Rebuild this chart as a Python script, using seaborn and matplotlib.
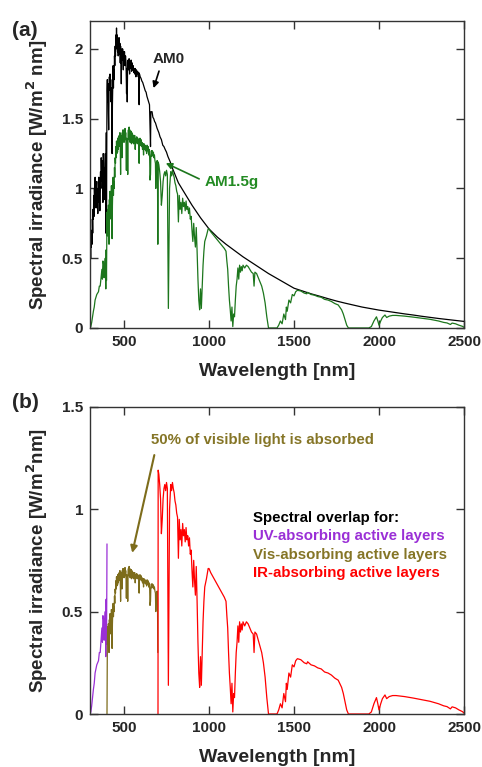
import numpy as np
import pandas as pd
import matplotlib
matplotlib.use("Agg")
import matplotlib.pyplot as plt
import seaborn as sns

# solar spectra, (wavelength nm, irradiance W/m2/nm)
am0_uv = [(300, 0.52), (302, 0.62), (304, 0.5), (306, 0.66), (308, 0.58), (310, 0.7),
          (312, 0.6), (314, 0.78), (316, 0.68), (318, 0.85), (320, 0.78), (322, 0.95),
          (324, 0.8), (326, 1.0), (328, 0.92), (330, 1.08), (332, 0.9), (334, 1.02),
          (336, 0.86), (338, 1.0), (340, 1.05), (342, 0.9), (344, 0.98), (346, 0.82),
          (348, 1.0), (350, 0.95), (352, 1.08), (354, 0.9), (356, 1.0), (358, 0.84),
          (360, 1.05), (362, 1.12), (364, 1.0), (366, 1.22), (368, 1.1), (370, 1.2),
          (372, 1.05), (374, 1.15), (376, 0.9), (378, 1.25), (380, 1.18), (382, 1.05),
          (384, 0.92), (386, 1.15), (388, 1.0), (390, 1.25), (392, 1.1), (393, 0.68),
          (394, 1.0), (396, 1.4), (397, 0.75), (399, 1.3)]
am0_vis = [(400, 1.7), (402, 1.78), (404, 1.62), (406, 1.75), (408, 1.55), (410, 1.42),
           (412, 1.7), (414, 1.8), (416, 1.72), (418, 1.82), (420, 1.7), (422, 1.78),
           (424, 1.62), (426, 1.72), (428, 1.55), (430, 1.25), (432, 1.6), (434, 1.75),
           (436, 1.88), (438, 1.72), (440, 1.85), (442, 1.78), (444, 1.95), (446, 1.88),
           (448, 2.02), (450, 1.95), (452, 2.1), (454, 2.0), (456, 2.15), (458, 2.02),
           (460, 2.1), (462, 1.98), (464, 2.08), (466, 1.95), (468, 2.06), (470, 2.02),
           (472, 2.08), (474, 1.96), (476, 2.04), (478, 1.9), (480, 2.02), (482, 1.95),
           (484, 1.75), (486, 1.98), (488, 2.0), (490, 1.92), (492, 2.0), (494, 1.95),
           (496, 1.85), (498, 1.98), (500, 1.92), (503, 1.98), (506, 1.88), (509, 1.95),
           (512, 1.9), (515, 1.68), (517, 1.86), (519, 1.62), (521, 1.85), (524, 1.92),
           (527, 1.85), (530, 1.93), (533, 1.82), (536, 1.9), (539, 1.86), (542, 1.92),
           (545, 1.84), (548, 1.9), (551, 1.85), (554, 1.88), (557, 1.83), (560, 1.86),
           (563, 1.82), (566, 1.86), (570, 1.8), (573, 1.85), (576, 1.82), (580, 1.84),
           (584, 1.8), (587, 1.83), (589, 1.6), (591, 1.82), (595, 1.8), (600, 1.79),
           (605, 1.77), (610, 1.76), (615, 1.74), (620, 1.72), (625, 1.7), (630, 1.69),
           (635, 1.66), (640, 1.64), (645, 1.62), (650, 1.6), (654, 1.4), (656, 1.3),
           (658, 1.55), (665, 1.55), (670, 1.51), (675, 1.5), (680, 1.48), (685, 1.47),
           (690, 1.45), (695, 1.43)]
am0_ir = [(705, 1.4), (712, 1.37), (720, 1.35), (728, 1.31), (735, 1.3), (742, 1.28),
          (750, 1.26), (758, 1.23), (765, 1.21), (772, 1.19), (780, 1.16), (790, 1.13),
          (800, 1.1), (810, 1.07), (820, 1.04), (835, 1.01), (850, 0.98), (862, 0.955),
          (875, 0.93), (888, 0.905), (900, 0.88), (925, 0.835),
          (950, 0.79), (975, 0.75), (1000, 0.71), (1050, 0.65), (1100, 0.6), (1150, 0.555),
          (1200, 0.51), (1250, 0.47), (1300, 0.43), (1350, 0.39), (1400, 0.355),
          (1450, 0.32), (1500, 0.285), (1550, 0.265), (1600, 0.245), (1650, 0.228),
          (1700, 0.21), (1750, 0.193), (1800, 0.178), (1850, 0.164), (1900, 0.15),
          (1950, 0.139), (2000, 0.128), (2050, 0.119), (2100, 0.11), (2150, 0.101),
          (2200, 0.093), (2250, 0.084), (2300, 0.076), (2350, 0.068), (2400, 0.061),
          (2450, 0.054), (2500, 0.047)]

am15_uv = [(300, 0.0), (305, 0.01), (310, 0.04), (315, 0.08), (320, 0.12), (325, 0.15),
           (330, 0.2), (335, 0.22), (340, 0.24), (345, 0.25), (350, 0.26), (355, 0.3),
           (360, 0.3), (365, 0.36), (370, 0.42), (373, 0.35), (376, 0.48), (380, 0.46),
           (383, 0.36), (386, 0.44), (390, 0.5), (393, 0.28), (395, 0.56), (397, 0.34),
           (399, 0.62), (400, 0.83)]
am15_vis = [(402, 0.66), (404, 0.85), (406, 0.7), (408, 0.88), (410, 0.82), (412, 0.6),
            (414, 0.92), (416, 0.8), (418, 0.98), (420, 0.86), (422, 0.95), (424, 0.78),
            (426, 1.02), (428, 0.9), (430, 0.64), (432, 0.88), (434, 1.0), (436, 1.08),
            (438, 0.95), (440, 1.05), (442, 1.0), (444, 1.15), (446, 1.08), (448, 1.22),
            (450, 1.18), (452, 1.3), (454, 1.22), (456, 1.34), (458, 1.25), (460, 1.33),
            (462, 1.26), (464, 1.36), (466, 1.28), (468, 1.37), (470, 1.3), (472, 1.38),
            (474, 1.32), (476, 1.4), (478, 1.3), (480, 1.1), (482, 1.36), (484, 1.28),
            (486, 1.38), (488, 1.22), (490, 1.4), (492, 1.34), (494, 1.42), (496, 1.36),
            (498, 1.4), (500, 1.33), (502, 1.42), (504, 1.36), (506, 1.43), (508, 1.35),
            (510, 1.4), (512, 1.32), (514, 1.13), (516, 1.36), (518, 1.15), (520, 1.34),
            (522, 1.1), (524, 1.38), (526, 1.42), (528, 1.35), (530, 1.44), (532, 1.36),
            (534, 1.42), (536, 1.33), (538, 1.4), (540, 1.36), (542, 1.41), (544, 1.32),
            (546, 1.4), (548, 1.34), (550, 1.39), (552, 1.33), (554, 1.38), (556, 1.32),
            (558, 1.37), (560, 1.34), (563, 1.38), (566, 1.28), (569, 1.36), (572, 1.33),
            (575, 1.37), (578, 1.32), (581, 1.36), (584, 1.33), (587, 1.35), (589, 1.18),
            (591, 1.33), (594, 1.36), (597, 1.31), (600, 1.35), (603, 1.3), (606, 1.33),
            (609, 1.28), (612, 1.32), (615, 1.24), (618, 1.32), (621, 1.28), (624, 1.31),
            (627, 1.27), (630, 1.3), (633, 1.25), (636, 1.31), (639, 1.27), (642, 1.3),
            (645, 1.24), (648, 1.28), (651, 1.22), (653, 1.06), (656, 1.1), (658, 1.24),
            (661, 1.27), (664, 1.23), (667, 1.27), (670, 1.24), (673, 1.26), (676, 1.22),
            (679, 1.24), (682, 1.2), (685, 1.18), (687, 1.0), (689, 1.12), (692, 1.18),
            (695, 1.2), (697, 1.12), (699, 0.6)]
am15_ir = [(701, 1.19), (705, 1.17), (710, 1.12), (715, 1.05), (720, 0.88), (725, 0.95),
           (730, 1.05), (735, 1.1), (740, 1.12), (745, 1.09), (750, 1.13), (755, 1.1),
           (758, 0.6), (761, 0.14), (764, 0.5), (768, 1.0), (775, 1.12), (780, 1.09),
           (785, 1.13), (790, 1.1), (795, 1.08), (800, 1.04), (805, 1.02), (810, 0.98),
           (815, 0.96), (820, 0.76), (825, 0.95), (830, 0.85), (835, 0.9), (840, 0.82),
           (845, 0.93), (850, 0.87), (855, 0.9), (860, 0.84), (865, 0.91), (870, 0.85),
           (875, 0.87), (880, 0.82), (885, 0.86), (890, 0.78), (895, 0.8), (900, 0.7),
           (905, 0.62), (910, 0.75), (915, 0.65), (920, 0.58), (925, 0.72), (930, 0.55),
           (935, 0.35), (940, 0.2), (945, 0.13), (950, 0.28), (955, 0.14), (960, 0.3),
           (965, 0.45), (970, 0.55), (975, 0.62), (985, 0.66), (995, 0.71), (1000, 0.71),
           (1010, 0.69), (1030, 0.66), (1050, 0.63), (1070, 0.6), (1090, 0.57), (1100, 0.55),
           (1105, 0.48), (1110, 0.42), (1115, 0.3), (1120, 0.2), (1125, 0.13), (1130, 0.05),
           (1135, 0.15), (1140, 0.01), (1145, 0.1), (1150, 0.08), (1155, 0.2), (1160, 0.3),
           (1165, 0.35), (1170, 0.43), (1175, 0.35), (1180, 0.45), (1185, 0.4), (1190, 0.44),
           (1195, 0.41), (1200, 0.45), (1210, 0.43), (1220, 0.45), (1230, 0.44),
           (1240, 0.42), (1250, 0.4), (1260, 0.39), (1265, 0.3), (1270, 0.4), (1280, 0.39),
           (1290, 0.36), (1300, 0.33), (1310, 0.3), (1320, 0.25), (1330, 0.18), (1340, 0.08),
           (1350, 0.0), (1400, 0.0), (1410, 0.02), (1420, 0.05), (1430, 0.03), (1440, 0.1),
           (1450, 0.06), (1455, 0.15), (1460, 0.12), (1470, 0.2), (1480, 0.18), (1490, 0.24),
           (1500, 0.23), (1510, 0.26), (1520, 0.27), (1540, 0.265), (1560, 0.25),
           (1575, 0.245), (1580, 0.255), (1600, 0.24), (1620, 0.235), (1640, 0.225),
           (1660, 0.22), (1680, 0.205), (1700, 0.2), (1720, 0.19), (1740, 0.175),
           (1760, 0.165), (1780, 0.13), (1790, 0.1), (1800, 0.06), (1810, 0.02),
           (1820, 0.0), (1940, 0.0), (1955, 0.01), (1970, 0.05), (1985, 0.08),
           (1993, 0.05), (2000, 0.02), (2010, 0.05), (2020, 0.075), (2035, 0.093),
           (2045, 0.075), (2060, 0.085), (2080, 0.09), (2100, 0.09), (2150, 0.085),
           (2200, 0.078), (2250, 0.07), (2300, 0.062), (2350, 0.05), (2380, 0.04),
           (2400, 0.036), (2420, 0.025), (2430, 0.035), (2450, 0.03), (2470, 0.02),
           (2490, 0.012), (2500, 0.005)]

xticks = [500, 1000, 1500, 2000, 2500]
yticks_a = [0, 0.5, 1, 1.5, 2]
yticks_b = [0, 0.5, 1, 1.5]
ytick_labels_a = ["0", "0.5", "1", "1.5", "2"]
ytick_labels_b = ["0", "0.5", "1", "1.5"]
vis_fraction = 0.5  # "50% of visible light is absorbed"

legend_lines = ["Spectral overlap for:", "UV-absorbing active layers",
                "Vis-absorbing active layers", "IR-absorbing active layers"]

BLACK = "#000000"
GREEN = "#1c761c"
PURPLE = "#9a2fd6"
OLIVE = "#7d6c1b"
OLIVE_TXT = "#857526"
RED = "#ff0000"


def frame(pairs):
    return pd.DataFrame(pairs, columns=["wl", "irr"])


am0 = frame(am0_uv + am0_vis + am0_ir)
am15 = frame(am15_uv + am15_vis + am15_ir)
uv = frame(am15_uv)
vis = frame([(400, 0.0)] + [(w, v * vis_fraction) for w, v in am15_vis])
ir = frame([(700, 0.0)] + am15_ir)

sns.set_style("ticks")
plt.rcParams["font.family"] = ["Liberation Sans", "DejaVu Sans"]
plt.rcParams["font.weight"] = "bold"

fig = plt.figure(figsize=(4.82, 7.67), dpi=100)
ax_a = fig.add_axes([0.1867, 0.5724, 0.776, 0.4002])
ax_b = fig.add_axes([0.1867, 0.0691, 0.776, 0.4007])

lw = 0.9
sns.lineplot(data=am0, x="wl", y="irr", ax=ax_a, color=BLACK, lw=lw,
             sort=False, estimator=None)
sns.lineplot(data=am15, x="wl", y="irr", ax=ax_a, color=GREEN, lw=lw,
             sort=False, estimator=None)

sns.lineplot(data=uv, x="wl", y="irr", ax=ax_b, color=PURPLE, lw=lw,
             sort=False, estimator=None)
sns.lineplot(data=vis, x="wl", y="irr", ax=ax_b, color=OLIVE, lw=lw,
             sort=False, estimator=None)
sns.lineplot(data=ir, x="wl", y="irr", ax=ax_b, color=RED, lw=lw,
             sort=False, estimator=None)

for ax, ymax, yt, ytl, ylab, xl_y in [
        (ax_a, 2.2, yticks_a, ytick_labels_a,
         "Spectral irradiance [W/m$^\\mathbf{2}$ nm]", -0.115),
        (ax_b, 1.5, yticks_b, ytick_labels_b,
         "Spectral irradiance [W/m$^\\mathbf{2}$nm]", -0.113)]:
    ax.set_xlim(300, 2500)
    ax.set_ylim(0, ymax)
    ax.set_xticks(xticks)
    ax.set_xticklabels([str(t) for t in xticks])
    ax.set_yticks(yt)
    ax.set_yticklabels(ytl)
    ax.tick_params(direction="in", length=6, width=1, color="#333333",
                   top=True, right=True, labelsize=11, pad=5)
    for lab in ax.get_xticklabels() + ax.get_yticklabels():
        lab.set_fontweight("bold")
    for s in ax.spines.values():
        s.set_color("#333333")
        s.set_linewidth(1)
    ax.set_xlabel("Wavelength [nm]", fontsize=14, fontweight="bold")
    ax.set_ylabel(ylab, fontsize=13.5, fontweight="bold")
    ax.xaxis.set_label_coords(0.5, xl_y)
    ax.yaxis.set_label_coords(-0.106, 0.5)

fig.text(0.025, 0.972, "(a)", fontsize=15, fontweight="bold", va="top")
fig.text(0.025, 0.487, "(b)", fontsize=15, fontweight="bold", va="top")

# panel (a) annotations
ax_a.annotate("", xy=(669, 1.70), xytext=(711, 1.86),
              arrowprops=dict(arrowstyle="-|>", color=BLACK, lw=1.2, mutation_scale=9))
ax_a.text(762, 1.93, "AM0", fontsize=11, fontweight="bold", ha="center", va="center")
ax_a.annotate("", xy=(731, 1.19), xytext=(957, 1.06),
              arrowprops=dict(arrowstyle="-|>", color=GREEN, lw=1.2, mutation_scale=9))
ax_a.text(975, 1.045, "AM1.5g", fontsize=11, fontweight="bold", color="#238b23",
          ha="left", va="center")

# panel (b) annotations
ax_b.annotate("", xy=(545, 0.773), xytext=(682, 1.277),
              arrowprops=dict(arrowstyle="-|>", color=OLIVE, lw=1.5, mutation_scale=10))
ax_b.text(661, 1.337, "50% of visible light is absorbed", fontsize=10.8,
          fontweight="bold", color=OLIVE_TXT, ha="left", va="center")

for i, (txt, col) in enumerate(zip(legend_lines, [BLACK, PURPLE, OLIVE_TXT, RED])):
    ax_b.text(1259, 0.957 - i * 0.09, txt, fontsize=10.8, fontweight="bold",
              color=col, ha="left", va="center")

fig.savefig("out.png", dpi=100)
